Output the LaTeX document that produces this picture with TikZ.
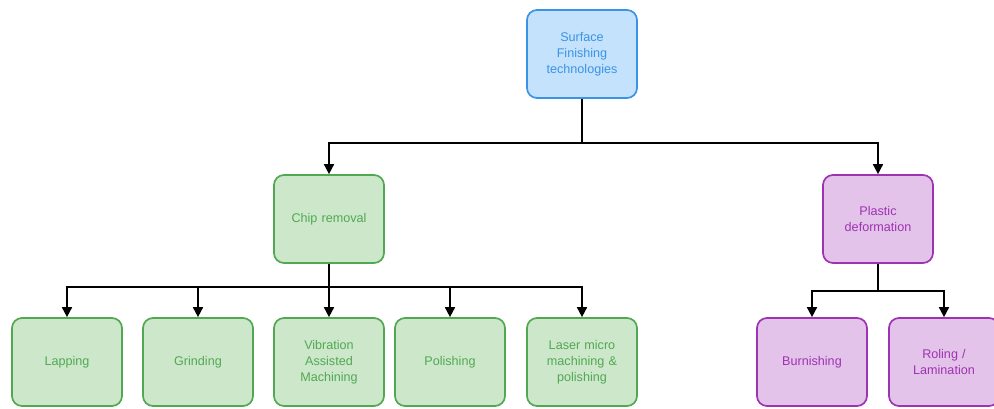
\documentclass[tikz,border=0pt]{standalone}
\usepackage{fontspec}
\setmainfont{Liberation Sans}
\usetikzlibrary{arrows.meta}
\definecolor{blueFill}{HTML}{C4E2FB}
\definecolor{blueLine}{HTML}{3A94E6}
\definecolor{greenFill}{HTML}{CDE7CB}
\definecolor{greenLine}{HTML}{52A852}
\definecolor{purpleFill}{HTML}{E3C3E9}
\definecolor{purpleLine}{HTML}{9E33B2}
\begin{document}
\begin{tikzpicture}[x=1pt,y=-1pt,
  box/.style={rounded corners=10pt, line width=1.7pt, minimum width=110pt, minimum height=88pt,
    inner sep=2pt, align=center, text width=104pt, font=\fontsize{12.6}{16}\selectfont},
  bluebox/.style={box, draw=blueLine, fill=blueFill, text=blueLine},
  greenbox/.style={box, draw=greenLine, fill=greenFill, text=greenLine},
  purplebox/.style={box, draw=purpleLine, fill=purpleFill, text=purpleLine},
  link/.style={line width=1.7pt, -{Triangle[length=10pt,width=10pt]}}]
\useasboundingbox (0,0) rectangle (994,408);
\begin{scope}
\clip (0,0) rectangle (994,408);
% top level
\node[bluebox] (top) at (582,54) {Surface\\Finishing\\technologies};
% second level
\node[greenbox] (chip) at (329,219) {Chip removal};
\node[purplebox] (plastic) at (878,219) {Plastic\\deformation};
% leaves
\node[greenbox] (lap) at (67,362) {Lapping};
\node[greenbox] (grind) at (198,362) {Grinding};
\node[greenbox] (vib) at (329,362) {Vibration\\Assisted\\Machining};
\node[greenbox] (pol) at (450,362) {Polishing};
\node[greenbox] (laser) at (582,362) {Laser micro\\machining \&\\polishing};
\node[purplebox] (burn) at (812,362) {Burnishing};
\node[purplebox] (roll) at (944,362) {Roling /\\Lamination};
% connectors
\draw[link] (top.south) -- ++(0,44) -| (chip.north);
\draw[link] (top.south) -- ++(0,44) -| (plastic.north);
\foreach \t in {lap,grind,vib,pol,laser}
  \draw[link] (chip.south) -- ++(0,23) -| (\t.north);
\foreach \t in {burn,roll}
  \draw[link] (plastic.south) -- ++(0,27) -| (\t.north);
\end{scope}
\end{tikzpicture}
\end{document}
